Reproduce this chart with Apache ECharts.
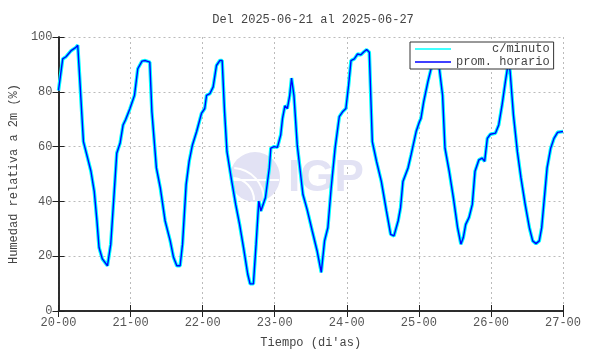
<!DOCTYPE html>
<html>
<head>
<meta charset="utf-8">
<script src="https://cdn.jsdelivr.net/npm/echarts@6/dist/echarts.min.js"></script>
<style>
  html, body { margin: 0; padding: 0; background: #fff; }
  #main { width: 590px; height: 354px; }
</style>
</head>
<body>
<div id="main"></div>
<script>
// horas desde 2025-06-20 00:00
var horas = [0, 1.4, 2.5, 4.2, 5.8, 6.4, 6.9, 8.3, 9.7, 10.8, 11.9, 12.8, 13.5, 14.6, 16.3, 17.4, 18.5, 19.4,
    20.5, 21.5, 22.3, 23.8, 25.3, 26.4, 27.8, 28.9, 30.4, 31.1, 32.6, 33.9, 35.5, 37.2, 38.3, 39.4, 40.5,
    41.3, 42.5, 43.5, 44.6, 46, 47.6, 48.7, 49.3, 50.4, 51.5, 52.6, 53.7, 54.5, 55.3, 56.1, 57.5, 59,
    60.3, 61.6, 63, 63.8, 64.9, 65.8, 66.7, 67.4, 68.9, 70.2, 70.7, 71.8, 72.9, 74, 74.6, 75.4, 76.2,
    77, 77.6, 78.4, 79.5, 81.4, 82.8, 84.5, 86.1, 87.5, 88.6, 89.7, 90.8, 92.1, 93.5, 94.6, 95.7, 96.6,
    97.4, 98.5, 99.6, 100.7, 101.8, 102.6, 103.5, 104.5, 105.9, 107.5, 109.2, 110.6, 111.7, 113.1,
    113.9, 114.7, 116.4, 117.4, 119.1, 120.2, 120.7, 121.6, 123, 124.6, 126.3, 126.8, 127.9, 128.7,
    130.1, 131.5, 132.9, 134, 134.8, 135.6, 136.7, 137.8, 138.7, 140, 141.1, 141.9, 142.8, 143.8,
    145.5, 146.6, 147.7, 148.8, 149.9, 150.4, 151.5, 152.8, 154, 155.4, 156.8, 157.9, 159, 160.1,
    160.9, 161.7, 162.7, 163.9, 165, 166.2, 168];
// humedad relativa promedio (%)
var humedad = [80.5, 92, 92.8, 95, 96.2, 97, 88, 61.8, 55.8, 51, 43.7, 32.9, 23.2, 19, 16.5, 24.4, 42.5, 57.6,
    61.2, 67.9, 69.7, 73.9, 78.7, 88.4, 91.2, 91.4, 90.8, 72.7, 52.2, 44.9, 32.9, 25.6, 19.6, 16.5, 16.5,
    24.4, 46.1, 54.6, 60.6, 65.5, 72.1, 73.9, 78.7, 79.3, 81.8, 89.6, 91.4, 91.4, 72.7, 58.2, 48.6, 38.9,
    31.6, 23.2, 13.5, 9.9, 9.9, 24.4, 40.1, 36.5, 41.3, 52.2, 59.4, 60, 59.7, 64.3, 70.3, 74.9, 73.9,
    78.7, 85, 78.7, 60.6, 42.5, 37, 29.2, 22, 14.1, 25.6, 30.4, 44.9, 59.4, 70.9, 72.7, 73.9, 82.4,
    91.4, 92, 93.8, 93.5, 94.7, 95.4, 94.4, 61.8, 54.6, 47.3, 36.5, 28, 27.4, 32.9,
    37.7, 47.3, 52.2, 57, 65.5, 69.1, 70.3, 76.3, 83.6, 90.8, 93.2, 93.8, 78.7, 59.4,
    51, 41.3, 30.4, 24.4, 26.8, 31.6, 34.1, 38.9, 51, 55.2, 55.8, 54.6, 63, 64.5,
    64.9, 67.9, 75.1, 83.6, 91.4, 87.2, 71.5, 58.2, 48.6, 38.9, 30.4, 25.6, 24.6, 25.6,
    30.4, 40.1, 52.2, 59.4, 63, 65.2, 65.5];
var diaInicio = 20;

var puntos = horas.map(function (h, i) { return [h, humedad[i]]; });

var myChart = echarts.init(document.getElementById('main'));
var fuente = "'Liberation Mono', 'DejaVu Sans Mono', monospace";

var option = {
    animation: false,
    textStyle: { fontFamily: fuente },
    title: {
        text: 'Del 2025-06-21 al 2025-06-27',
        left: 308, top: 9, textAlign: 'center',
        textStyle: { fontFamily: fuente, fontSize: 12, fontWeight: 'normal', color: '#444' }
    },
    legend: {
        left: 410, top: 42,
        orient: 'vertical',
        padding: [1, 4, 1, 5],
        itemGap: 1,
        itemWidth: 36, itemHeight: 1.5,
        icon: 'rect',
        borderColor: '#333', borderWidth: 1,
        backgroundColor: '#fff',
        textStyle: { fontFamily: fuente, fontSize: 12, color: '#444', lineHeight: 11 },
        data: ['c/minuto', 'prom. horario'],
        formatter: function (n) { return n === 'c/minuto' ? '     c/minuto' : n; }
    },
    graphic: [
        { type: 'circle', shape: { cx: 255, cy: 177, r: 25 }, style: { fill: '#e2e2f4' }, z: 1 },
        { type: 'arc', shape: { cx: 232, cy: 200, r: 32, startAngle: -1.5, endAngle: 0 },
          style: { stroke: '#fff', lineWidth: 2, fill: null }, z: 1 },
        { type: 'arc', shape: { cx: 232, cy: 200, r: 22, startAngle: -1.5, endAngle: 0 },
          style: { stroke: '#fff', lineWidth: 2, fill: null }, z: 1 },
        { type: 'line', shape: { x1: 231, y1: 180, x2: 279, y2: 180 },
          style: { stroke: '#fff', lineWidth: 2 }, z: 1 },
        { type: 'text', left: 288, top: 157,
          style: { text: 'IGP', font: 'bold 44px "Liberation Sans", sans-serif', fill: '#e2e2f4' }, z: 1 }
    ],
    grid: { left: 54, right: 27, top: 37, bottom: 40 },
    xAxis: [{
        type: 'value', min: 0, max: 168, interval: 24,
        name: "Tiempo (di'as)", nameLocation: 'middle', nameGap: 26,
        nameTextStyle: { fontFamily: fuente, fontSize: 12, color: '#444' },
        axisLine: { lineStyle: { color: '#222', width: 1.5 } },
        axisTick: { inside: true, length: 6, lineStyle: { color: '#222' } },
        axisLabel: { margin: 6, fontSize: 12, color: '#555', fontFamily: fuente,
            formatter: function (v) { return (diaInicio + v / 24) + '-00'; } },
        splitLine: { show: true, lineStyle: { color: '#bbb', type: [2, 3] } }
    }, {
        type: 'value', min: 0, max: 168, interval: 24, position: 'top',
        axisLine: { lineStyle: { color: '#222', width: 1.5 } },
        axisTick: { inside: true, length: 6, lineStyle: { color: '#222' } },
        axisLabel: { show: false }, splitLine: { show: false }
    }],
    yAxis: [{
        type: 'value', min: 0, max: 100, interval: 20,
        name: 'Humedad relativa a 2m (%)', nameLocation: 'middle', nameGap: 36,
        nameTextStyle: { fontFamily: fuente, fontSize: 12, color: '#444' },
        axisLine: { show: true, lineStyle: { color: '#222', width: 1.5 } },
        axisTick: { show: true, inside: true, length: 6, lineStyle: { color: '#222' } },
        axisLabel: { margin: 6, fontSize: 12, color: '#555', fontFamily: fuente },
        splitLine: { show: true, lineStyle: { color: '#bbb', type: [2, 3] } }
    }, {
        type: 'value', min: 0, max: 100, interval: 20, position: 'right',
        axisLine: { show: true, lineStyle: { color: '#222', width: 1.5 } },
        axisTick: { show: true, inside: true, length: 6, lineStyle: { color: '#222' } },
        axisLabel: { show: false }, splitLine: { show: false }
    }],
    series: [{
        name: 'c/minuto',
        type: 'line',
        symbol: 'none',
        data: puntos,
        lineStyle: { color: '#00ffff', width: 3.5 },
        itemStyle: { color: '#00ffff' },
        z: 2
    }, {
        name: 'prom. horario',
        type: 'line',
        symbol: 'none',
        data: puntos,
        lineStyle: { color: '#0000ff', width: 1.4 },
        itemStyle: { color: '#0000ff' },
        z: 3
    }]
};
myChart.setOption(option);
</script>
</body>
</html>
